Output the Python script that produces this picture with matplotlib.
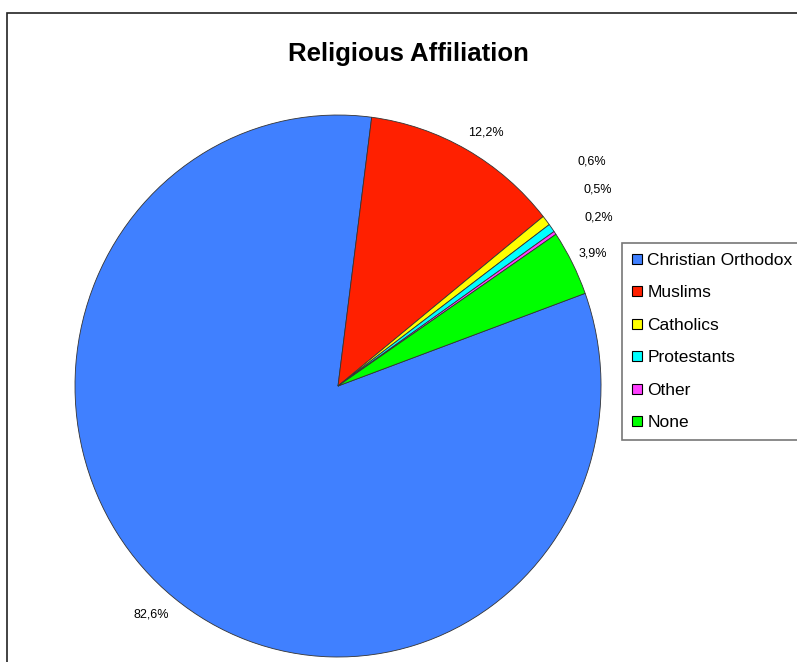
import numpy as np
import matplotlib.pyplot as plt
from matplotlib.patches import Rectangle
from matplotlib.lines import Line2D

plt.rcParams['font.family'] = ['Liberation Sans', 'DejaVu Sans']

categories = ['Christian Orthodox', 'Muslims', 'Catholics', 'Protestants', 'Other', 'None']
shares = [82.6, 12.2, 0.6, 0.5, 0.2, 3.9]
colors = ['#4080FF', '#FF2000', '#FFFF00', '#00FFFF', '#FF40FF', '#00FF00']
pct_labels = ['82,6%', '12,2%', '0,6%', '0,5%', '0,2%', '3,9%']

# label placement (angle in degrees, radius factor) - small slices are stacked
label_pos = [(-130.1, 1.104), (59.0, 1.093), (40.7, 1.273), (36.2, 1.225), (32.0, 1.170), (26.8, 1.087)]

fig = plt.figure(figsize=(7.97, 6.62), dpi=100)
ax = fig.add_axes([0.0941, 0.00755, 0.66, 0.8187])

wedges, _ = ax.pie(shares, colors=colors, startangle=20, counterclock=False,
                   wedgeprops=dict(edgecolor='#333333', linewidth=0.6))
ax.set_aspect('auto')
ax.set_xlim(-1, 1)
ax.set_ylim(-1, 1)
ax.axis('off')

for lab, (ang, r) in zip(pct_labels, label_pos):
    a = np.deg2rad(ang)
    ax.text(r * np.cos(a), r * np.sin(a), lab, fontsize=9, ha='center', va='center',
            clip_on=False)

fig.text(0.512, 0.919, 'Religious Affiliation', fontsize=18.5, fontweight='bold',
         ha='center', va='center')

# outer chart frame
fig.patches.append(Rectangle((7 / 797, -0.1), 1.2, 1 - 13 / 662 + 0.1,
                             transform=fig.transFigure, fill=False,
                             edgecolor='#222222', linewidth=1.2))

handles = [Line2D([], [], marker='s', linestyle='none', markersize=7,
                  markerfacecolor=c, markeredgecolor='black', markeredgewidth=0.8)
           for c in colors]
leg = fig.legend(handles, categories, loc='upper left',
                 bbox_to_anchor=(622 / 797, 1 - 243 / 662), fontsize=12.5,
                 frameon=True, fancybox=False, edgecolor='#555555',
                 handlelength=0.6, handletextpad=0.3, labelspacing=1.0,
                 borderpad=0.55, borderaxespad=0)
leg.get_frame().set_linewidth(1.2)

fig.savefig('out.png', dpi=100)
